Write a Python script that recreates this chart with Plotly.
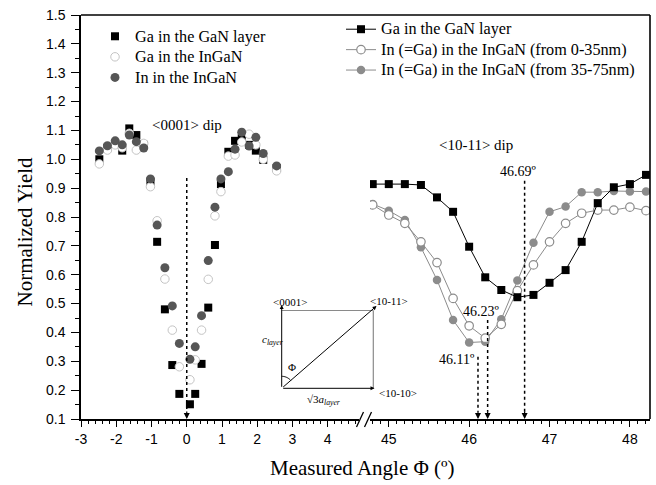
import math
import plotly.graph_objects as go

# ---------------- data: <0001> dip (left panel) ----------------
phi_left = [-2.48, -2.25, -2.03, -1.83, -1.63, -1.43, -1.22, -1.03, -0.84, -0.62,
            -0.41, -0.21, 0.09, 0.24, 0.42, 0.61, 0.80, 0.97, 1.18, 1.37,
            1.56, 1.77, 1.96, 2.17, 2.55]
ga_gan_left = [1.000, 1.040, 1.053, 1.030, 1.107, 1.084, 1.050, 0.922, 0.714, 0.480,
               0.287, 0.187, 0.151, 0.187, 0.291, 0.486, 0.703, 0.914, 1.026, 1.064,
               1.073, 1.050, 1.030, 0.998, 0.970]
ga_ingan_left = [0.984, 1.032, 1.050, 1.040, 1.090, 1.032, 1.055, 0.905, 0.787, 0.585,
                 0.408, 0.281, 0.236, 0.305, 0.408, 0.584, 0.804, 0.888, 1.011, 1.015,
                 1.060, 1.087, 1.050, 1.000, 0.960]
in_ingan_left = [1.029, 1.047, 1.064, 1.050, 1.084, 1.061, 1.039, 0.932, 0.772, 0.624,
                 0.492, 0.362, 0.307, 0.350, 0.458, 0.649, 0.834, 0.932, 0.957, 1.035,
                 1.094, 1.046, 1.076, 1.020, 0.977]

# ---------------- data: <10-11> dip (right panel) ----------------
phi_right = [44.8, 45.0, 45.2, 45.4, 45.6, 45.8, 46.0, 46.2, 46.4, 46.6,
             46.8, 47.0, 47.2, 47.4, 47.6, 47.8, 48.0, 48.2]
ga_gan_right = [0.914, 0.914, 0.914, 0.911, 0.868, 0.818, 0.697, 0.591, 0.547, 0.522,
                0.530, 0.572, 0.616, 0.714, 0.848, 0.903, 0.914, 0.946]
in_0_35_right = [0.842, 0.807, 0.778, 0.714, 0.642, 0.518, 0.423, 0.380, 0.428, 0.545,
                 0.634, 0.714, 0.778, 0.813, 0.824, 0.824, 0.834, 0.822]
in_35_75_right = [0.845, 0.822, 0.790, 0.695, 0.582, 0.443, 0.365, 0.368, 0.446, 0.580,
                  0.711, 0.818, 0.836, 0.886, 0.886, 0.890, 0.888, 0.888]

# dip minima markers (angle, top of dotted line)
dip_angles_right = [46.11, 46.23, 46.69]
dip_tops_right = [0.316, 0.443, 0.926]
dip_labels_right = ["46.11º", "46.23º", "46.69º"]

# ticks
x_left_ticks = [-3, -2, -1, 0, 1, 2, 3, 4]
x_left_labels = ["-3", "-2", "-1", "0", "1", "2", "3", "4"]
x_right_ticks = [45, 46, 47, 48]
x_right_labels = ["45", "46", "47", "48"]

SERIF = "Liberation Serif, Times New Roman, serif"
SANS = "Liberation Sans, Arial, sans-serif"
LEG_SPAN = '<span style="font-size:16.2px">{}</span>'

# plot-area geometry helpers (pixel -> paper)
L, R, T, B = 81, 650, 15, 419
def px(x):
    return (x - L) / (R - L)
def py(y):
    return (B - y) / (B - T)

fig = go.Figure()

# left panel traces
fig.add_trace(go.Scatter(x=phi_left, y=ga_gan_left, mode="markers",
                         name=LEG_SPAN.format("Ga in the GaN layer"),
                         marker=dict(symbol="square", size=8, color="black"),
                         xaxis="x", yaxis="y", legend="legend"))
fig.add_trace(go.Scatter(x=phi_left, y=ga_ingan_left, mode="markers",
                         name=LEG_SPAN.format("Ga in the InGaN"),
                         marker=dict(symbol="circle", size=8.5, color="white",
                                     line=dict(color="#c4c4c4", width=1)),
                         xaxis="x", yaxis="y", legend="legend"))
fig.add_trace(go.Scatter(x=phi_left, y=in_ingan_left, mode="markers",
                         name=LEG_SPAN.format("In in the InGaN"),
                         marker=dict(symbol="circle", size=9, color="#565656"),
                         xaxis="x", yaxis="y", legend="legend"))

# right panel traces
fig.add_trace(go.Scatter(x=phi_right, y=in_35_75_right, mode="lines+markers",
                         name=LEG_SPAN.format("In (=Ga) in the InGaN (from 35-75nm)"),
                         legendrank=3,
                         line=dict(color="#8c8c8c", width=1),
                         marker=dict(symbol="circle", size=8.5, color="#8c8c8c"),
                         xaxis="x2", yaxis="y", legend="legend2"))
fig.add_trace(go.Scatter(x=phi_right, y=in_0_35_right, mode="lines+markers",
                         name=LEG_SPAN.format("In (=Ga) in the InGaN (from 0-35nm)"),
                         legendrank=2,
                         line=dict(color="#8c8c8c", width=1),
                         marker=dict(symbol="circle", size=8.5, color="white",
                                     line=dict(color="#8c8c8c", width=1.2)),
                         xaxis="x2", yaxis="y", legend="legend2"))
fig.add_trace(go.Scatter(x=phi_right, y=ga_gan_right, mode="lines+markers",
                         name=LEG_SPAN.format("Ga in the GaN layer"), legendrank=1,
                         line=dict(color="black", width=1),
                         marker=dict(symbol="square", size=8, color="black"),
                         xaxis="x2", yaxis="y", legend="legend2"))

shapes = []
annotations = []

# frame: top and right
shapes.append(dict(type="line", xref="paper", yref="paper", x0=0, x1=1, y0=1, y1=1,
                   line=dict(color="black", width=1.6)))
shapes.append(dict(type="line", xref="paper", yref="paper", x0=1, x1=1, y0=0, y1=1,
                   line=dict(color="black", width=1.6)))
# axis break marks
for x0 in (356.5, 364.5):
    shapes.append(dict(type="line", xref="paper", yref="paper",
                       x0=px(x0), y0=py(427), x1=px(x0 + 7), y1=py(412),
                       line=dict(color="black", width=1.3)))

# dotted guide lines with arrowheads
shapes.append(dict(type="line", xref="x", yref="y", x0=0, x1=0, y0=0.935, y1=0.125,
                   line=dict(color="black", width=1.5, dash="dot")))
annotations.append(dict(x=0, y=0.1, xref="x", yref="y", text="", showarrow=True,
                        ax=0, ay=-9, arrowhead=2, arrowsize=1, arrowwidth=1.2, arrowcolor="black"))
for a, top in zip(dip_angles_right, dip_tops_right):
    shapes.append(dict(type="line", xref="x2", yref="y", x0=a, x1=a, y0=top, y1=0.125,
                       line=dict(color="black", width=1.5, dash="dot")))
    annotations.append(dict(x=a, y=0.1, xref="x2", yref="y", text="", showarrow=True,
                            ax=0, ay=-9, arrowhead=2, arrowsize=1, arrowwidth=1.2,
                            arrowcolor="black"))

# text labels
annotations.append(dict(x=0, y=1.12, xref="x", yref="y", text="&lt;0001&gt; dip",
                        showarrow=False, xanchor="center", yanchor="middle",
                        font=dict(family=SERIF, size=15, color="black")))
annotations.append(dict(x=46.086, y=1.05, xref="x2", yref="y", text="&lt;10-11&gt; dip",
                        showarrow=False, xanchor="center", yanchor="middle",
                        font=dict(family=SERIF, size=15, color="black")))
label_pos = {"46.11º": (45.85, 0.305), "46.23º": (46.148, 0.471), "46.69º": (46.61, 0.959)}
for lab in dip_labels_right:
    xx, yy = label_pos[lab]
    annotations.append(dict(x=xx, y=yy, xref="x2", yref="y", text=lab, showarrow=False,
                            xanchor="center", yanchor="middle",
                            font=dict(family=SERIF, size=14, color="black")))

# axis titles
annotations.append(dict(x=px(25), y=py(231.5), xref="paper", yref="paper",
                        text="Normalized Yield", textangle=-90, showarrow=False,
                        xanchor="center", yanchor="middle",
                        font=dict(family=SERIF, size=21, color="black")))
annotations.append(dict(x=px(362), y=py(468), xref="paper", yref="paper",
                        text="Measured Angle Φ (º)", showarrow=False,
                        xanchor="center", yanchor="middle",
                        font=dict(family=SERIF, size=21, color="black")))

# inset diagram
ox, oy = 281.7, 388.3
shapes.append(dict(type="line", xref="paper", yref="paper", x0=px(ox), y0=py(310.5),
                   x1=px(373.3), y1=py(310.5), line=dict(color="#8a8a8a", width=1.2)))
shapes.append(dict(type="line", xref="paper", yref="paper", x0=px(373.3), y0=py(310.5),
                   x1=px(373.3), y1=py(oy), line=dict(color="#8a8a8a", width=1.2)))
for hx, hy in [(ox, 305), (374.5, oy), (376.5, 306)]:
    annotations.append(dict(x=px(hx), y=py(hy), xref="paper", yref="paper", text="",
                            showarrow=True, ax=ox - hx, ay=oy - hy, arrowhead=2,
                            arrowsize=0.8, arrowwidth=1, arrowcolor="black"))
# angle arc
r = 12
ang_end = math.atan2(oy - 306, 376.5 - ox)
pts = []
n = 12
for i in range(n + 1):
    t = math.pi / 2 - (math.pi / 2 - ang_end) * i / n
    pts.append((px(ox + r * math.cos(t)), py(oy - r * math.sin(t))))
path = "M " + " L ".join(f"{a:.5f},{b:.5f}" for a, b in pts)
shapes.append(dict(type="path", xref="paper", yref="paper", path=path,
                   line=dict(color="black", width=1)))
inset_font = dict(family=SERIF, size=11, color="black")
inset_labels = [
    dict(x=px(290), y=py(302), text="&lt;0001&gt;"),
    dict(x=px(389), y=py(301), text="&lt;10-11&gt;"),
    dict(x=px(398), y=py(393), text="&lt;10-10&gt;"),
    dict(x=px(273), y=py(340), text="<i>c<sub>layer</sub></i>"),
    dict(x=px(291.5), y=py(366.5), text="Φ"),
    dict(x=px(324), y=py(400), text="√3<i>a<sub>layer</sub></i>"),
]
for a in inset_labels:
    a.update(xref="paper", yref="paper", showarrow=False, font=inset_font,
             xanchor="center", yanchor="middle")
annotations += inset_labels

tickfont = dict(family=SANS, size=14, color="black")
common_x = dict(showline=True, linecolor="black", linewidth=1.5, showgrid=False,
                zeroline=False, ticks="outside", ticklen=6, tickwidth=1.2, tickcolor="black",
                tickfont=tickfont, anchor="y", tickmode="array")

fig.update_layout(
    width=656, height=485,
    margin=dict(l=L, r=656 - R, t=T, b=485 - B, pad=0),
    paper_bgcolor="white", plot_bgcolor="white",
    xaxis=dict(domain=[0, 0.4886], range=[-3, 4.887], tickvals=x_left_ticks,
               ticktext=x_left_labels,
               minor=dict(tick0=0, dtick=0.2, ticks="outside", ticklen=3.5,
                          tickwidth=1, tickcolor="black"), **common_x),
    xaxis2=dict(domain=[0.508, 1], range=[44.767, 48.25], tickvals=x_right_ticks,
                ticktext=x_right_labels,
                minor=dict(tick0=45, dtick=0.1, ticks="outside", ticklen=3.5,
                           tickwidth=1, tickcolor="black"), **common_x),
    yaxis=dict(domain=[0, 1], range=[0.1, 1.5], tick0=0.1, dtick=0.1, tickformat=".1f",
               showline=True, linecolor="black", linewidth=1.5, showgrid=False,
               zeroline=False, ticks="outside", ticklen=8, tickwidth=1.2, tickcolor="black",
               tickfont=tickfont, anchor="x", ticklabelstandoff=3,
               minor=dict(dtick=0.05, tick0=0.1, ticks="outside", ticklen=4.5,
                          tickwidth=1, tickcolor="black")),
    legend=dict(x=px(95), y=py(21), xanchor="left", yanchor="top",
                bgcolor="rgba(0,0,0,0)", font=dict(family=SERIF, size=13.5, color="black")),
    legend2=dict(x=px(341), y=py(14), xanchor="left", yanchor="top",
                 bgcolor="rgba(0,0,0,0)", font=dict(family=SERIF, size=13.4, color="black")),
    showlegend=True,
    shapes=shapes,
    annotations=annotations,
)

fig.write_html("out.html")
